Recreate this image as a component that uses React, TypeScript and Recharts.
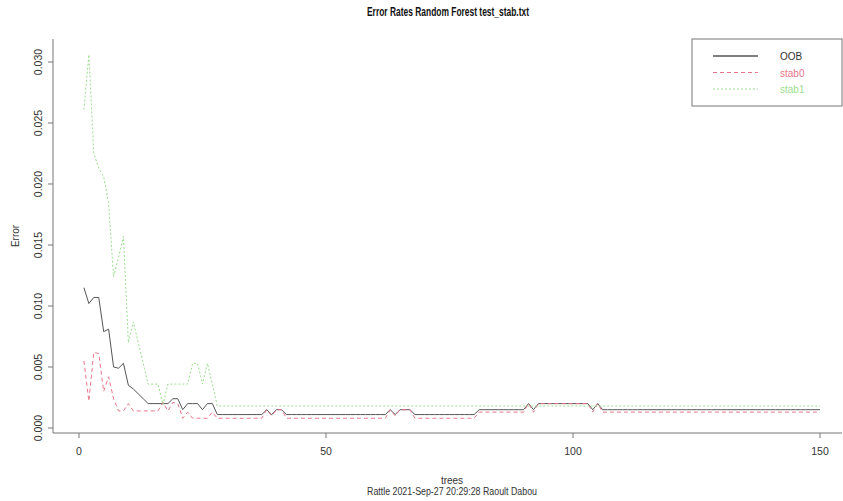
import { LineChart, Line, XAxis, YAxis } from 'recharts';

// trees 1..150 (x positions are just the tree count)
const trees = Array.from({ length: 150 }, (_, i) => i + 1);

const oob = [
  0.0115, 0.0102, 0.0107, 0.0107, 0.0079, 0.0081, 0.0050, 0.0049, 0.0053, 0.0035,
  0.0032, 0.0028, 0.0024, 0.0020, 0.0020, 0.0020, 0.0020, 0.0020, 0.0024, 0.0024,
  0.0015, 0.0020, 0.0020, 0.0020, 0.0015, 0.0020, 0.0020, 0.0011, 0.0011, 0.0011,
  0.0011, 0.0011, 0.0011, 0.0011, 0.0011, 0.0011, 0.0011, 0.0015, 0.0011, 0.0015,
  0.0015, 0.0011, 0.0011, 0.0011, 0.0011, 0.0011, 0.0011, 0.0011, 0.0011, 0.0011,
  0.0011, 0.0011, 0.0011, 0.0011, 0.0011, 0.0011, 0.0011, 0.0011, 0.0011, 0.0011,
  0.0011, 0.0011, 0.0015, 0.0011, 0.0015, 0.0015, 0.0015, 0.0011, 0.0011, 0.0011,
  0.0011, 0.0011, 0.0011, 0.0011, 0.0011, 0.0011, 0.0011, 0.0011, 0.0011, 0.0011,
  0.0015, 0.0015, 0.0015, 0.0015, 0.0015, 0.0015, 0.0015, 0.0015, 0.0015, 0.0015,
  0.0020, 0.0015, 0.0020, 0.0020, 0.0020, 0.0020, 0.0020, 0.0020, 0.0020, 0.0020,
  0.0020, 0.0020, 0.0020, 0.0015, 0.0020, 0.0015, 0.0015, 0.0015, 0.0015, 0.0015,
  0.0015, 0.0015, 0.0015, 0.0015, 0.0015, 0.0015, 0.0015, 0.0015, 0.0015, 0.0015,
  0.0015, 0.0015, 0.0015, 0.0015, 0.0015, 0.0015, 0.0015, 0.0015, 0.0015, 0.0015,
  0.0015, 0.0015, 0.0015, 0.0015, 0.0015, 0.0015, 0.0015, 0.0015, 0.0015, 0.0015,
  0.0015, 0.0015, 0.0015, 0.0015, 0.0015, 0.0015, 0.0015, 0.0015, 0.0015, 0.0015,
];

const stab0 = [
  0.0055, 0.0022, 0.0062, 0.0061, 0.0030, 0.0042, 0.0024, 0.0014, 0.0014, 0.0020,
  0.0014, 0.0014, 0.0014, 0.0014, 0.0014, 0.0014, 0.0021, 0.0014, 0.0021, 0.0020,
  0.0008, 0.0013, 0.0008, 0.0008, 0.0008, 0.0008, 0.0013, 0.0008, 0.0008, 0.0008,
  0.0008, 0.0008, 0.0008, 0.0008, 0.0008, 0.0008, 0.0008, 0.0015, 0.0010, 0.0015,
  0.0015, 0.0008, 0.0008, 0.0008, 0.0008, 0.0008, 0.0008, 0.0008, 0.0008, 0.0008,
  0.0008, 0.0008, 0.0008, 0.0008, 0.0008, 0.0008, 0.0008, 0.0008, 0.0008, 0.0008,
  0.0008, 0.0008, 0.0015, 0.0010, 0.0015, 0.0015, 0.0015, 0.0008, 0.0008, 0.0008,
  0.0008, 0.0008, 0.0008, 0.0008, 0.0008, 0.0008, 0.0008, 0.0008, 0.0008, 0.0008,
  0.0013, 0.0013, 0.0013, 0.0013, 0.0013, 0.0013, 0.0013, 0.0013, 0.0013, 0.0013,
  0.0020, 0.0013, 0.0020, 0.0020, 0.0020, 0.0020, 0.0020, 0.0020, 0.0020, 0.0020,
  0.0020, 0.0020, 0.0020, 0.0013, 0.0020, 0.0013, 0.0013, 0.0013, 0.0013, 0.0013,
  0.0013, 0.0013, 0.0013, 0.0013, 0.0013, 0.0013, 0.0013, 0.0013, 0.0013, 0.0013,
  0.0013, 0.0013, 0.0013, 0.0013, 0.0013, 0.0013, 0.0013, 0.0013, 0.0013, 0.0013,
  0.0013, 0.0013, 0.0013, 0.0013, 0.0013, 0.0013, 0.0013, 0.0013, 0.0013, 0.0013,
  0.0013, 0.0013, 0.0013, 0.0013, 0.0013, 0.0013, 0.0013, 0.0013, 0.0013, 0.0013,
];

const stab1 = [
  0.0261, 0.0306, 0.0225, 0.0213, 0.0206, 0.0184, 0.0124, 0.0140, 0.0157, 0.0070,
  0.0087, 0.0070, 0.0053, 0.0036, 0.0036, 0.0036, 0.0019, 0.0036, 0.0036, 0.0036,
  0.0036, 0.0036, 0.0053, 0.0053, 0.0036, 0.0053, 0.0036, 0.0018, 0.0018, 0.0018,
  0.0018, 0.0018, 0.0018, 0.0018, 0.0018, 0.0018, 0.0018, 0.0018, 0.0018, 0.0018,
  0.0018, 0.0018, 0.0018, 0.0018, 0.0018, 0.0018, 0.0018, 0.0018, 0.0018, 0.0018,
  0.0018, 0.0018, 0.0018, 0.0018, 0.0018, 0.0018, 0.0018, 0.0018, 0.0018, 0.0018,
  0.0018, 0.0018, 0.0018, 0.0018, 0.0018, 0.0018, 0.0018, 0.0018, 0.0018, 0.0018,
  0.0018, 0.0018, 0.0018, 0.0018, 0.0018, 0.0018, 0.0018, 0.0018, 0.0018, 0.0018,
  0.0018, 0.0018, 0.0018, 0.0018, 0.0018, 0.0018, 0.0018, 0.0018, 0.0018, 0.0018,
  0.0018, 0.0018, 0.0018, 0.0018, 0.0018, 0.0018, 0.0018, 0.0018, 0.0018, 0.0018,
  0.0018, 0.0018, 0.0018, 0.0018, 0.0018, 0.0018, 0.0018, 0.0018, 0.0018, 0.0018,
  0.0018, 0.0018, 0.0018, 0.0018, 0.0018, 0.0018, 0.0018, 0.0018, 0.0018, 0.0018,
  0.0018, 0.0018, 0.0018, 0.0018, 0.0018, 0.0018, 0.0018, 0.0018, 0.0018, 0.0018,
  0.0018, 0.0018, 0.0018, 0.0018, 0.0018, 0.0018, 0.0018, 0.0018, 0.0018, 0.0018,
  0.0018, 0.0018, 0.0018, 0.0018, 0.0018, 0.0018, 0.0018, 0.0018, 0.0018, 0.0018,
];

const xTicks = [0, 50, 100, 150];
const yTicks = [0, 0.005, 0.01, 0.015, 0.02, 0.025, 0.03];
const seriesNames = ['OOB', 'stab0', 'stab1'];

const FONT = '"Liberation Sans", Arial, sans-serif';
const AXIS = '#777';
const colors = { OOB: '#555555', stab0: '#e8768a', stab1: '#99df8d' };
const dashes = { OOB: undefined, stab0: '4 3', stab1: '2 2' };

const data = trees.map((t, i) => ({ tree: t, OOB: oob[i], stab0: stab0[i], stab1: stab1[i] }));

const XTick = ({ x, y, payload }: any) => (
  <text x={x} y={y + 15} textAnchor="middle" fontSize={10.5} fontFamily={FONT} fill="#333">
    {payload.value}
  </text>
);

const YTick = ({ x, y, payload }: any) => (
  <text transform={`translate(${x - 4},${y}) rotate(-90)`} textAnchor="middle" fontSize={10.5} fontFamily={FONT} fill="#333">
    {payload.value.toFixed(3)}
  </text>
);

export default function App() {
  return (
    <div style={{ position: 'absolute', left: 0, top: 0, width: 843, height: 501, background: '#fff' }}>
      <LineChart width={843} height={501} data={data} margin={{ top: 39, right: 1, left: 0, bottom: 0 }}>
        <XAxis dataKey="tree" type="number" domain={[-5.26, 154.45]} ticks={xTicks} allowDataOverflow
          height={68} tickSize={5} tick={<XTick />} stroke={AXIS} interval={0} />
        <XAxis xAxisId="top" orientation="top" dataKey="tree" type="number" domain={[-5.26, 154.45]}
          height={0} tick={false} tickLine={false} stroke={AXIS} />
        <YAxis type="number" domain={[-0.00041, 0.031885]} ticks={yTicks} allowDataOverflow
          width={53} tickSize={5} tick={<YTick />} stroke={AXIS} interval={0} />
        <YAxis yAxisId="right" orientation="right" type="number" domain={[-0.00041, 0.031885]}
          width={0} tick={false} tickLine={false} stroke={AXIS} />
        {seriesNames.map((n) => (
          <Line key={n} type="linear" dataKey={n} stroke={colors[n]} strokeWidth={1}
            strokeDasharray={dashes[n]} dot={false} activeDot={false} isAnimationActive={false} />
        ))}
      </LineChart>
      <svg width={843} height={501} style={{ position: 'absolute', left: 0, top: 0, pointerEvents: 'none' }}>
        <text x={448} y={16} textAnchor="middle" fontSize={12} fontWeight="bold" fontFamily={FONT} fill="#111"
          textLength={162} lengthAdjust="spacingAndGlyphs">Error Rates Random Forest test_stab.txt</text>
        <text transform="translate(19,236) rotate(-90)" textAnchor="middle" fontSize={10} fontFamily={FONT} fill="#333">Error</text>
        <text x={452} y={484} textAnchor="middle" fontSize={10} fontFamily={FONT} fill="#333">trees</text>
        <text x={452} y={495} textAnchor="middle" fontSize={10} fontFamily={FONT} fill="#333"
          textLength={170} lengthAdjust="spacingAndGlyphs">Rattle 2021-Sep-27 20:29:28 Raoult Dabou</text>
        <rect x={692} y={39} width={150} height={67} fill="#fff" stroke={AXIS} strokeWidth={1} />
        {seriesNames.map((n, i) => (
          <g key={n}>
            <line x1={713} x2={758} y1={56 + i * 16.5} y2={56 + i * 16.5} stroke={colors[n]}
              strokeWidth={n === 'OOB' ? 1.5 : 1} strokeDasharray={dashes[n]} />
            <text x={780} y={60 + i * 16.5} fontSize={10} fontFamily={FONT}
              fill={n === 'OOB' ? '#333' : colors[n]}>{n}</text>
          </g>
        ))}
      </svg>
    </div>
  );
}
